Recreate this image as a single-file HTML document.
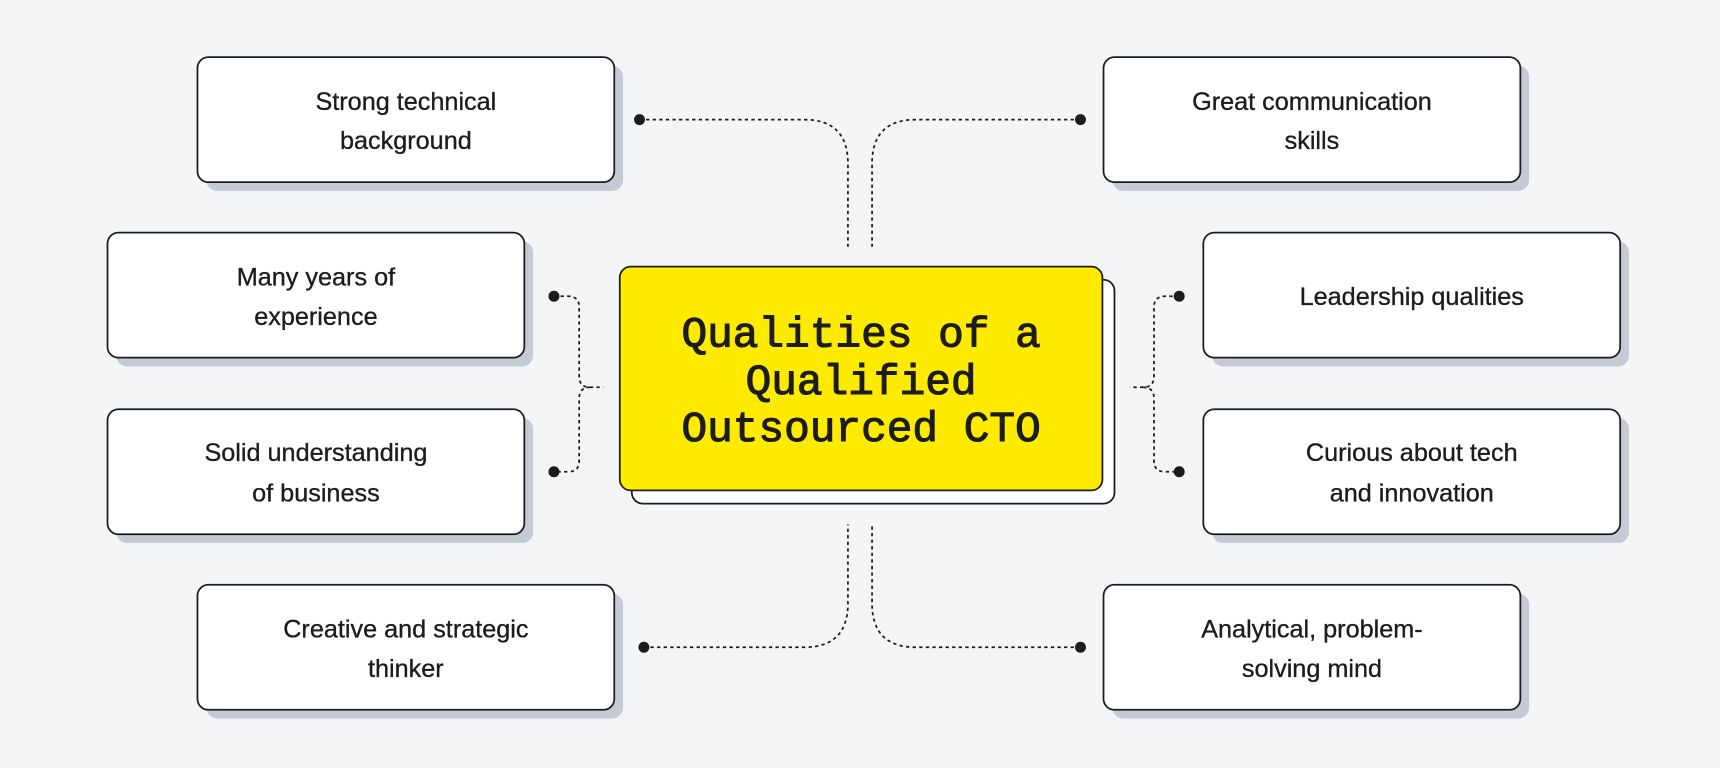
<!DOCTYPE html>
<html><head><meta charset="utf-8"><style>
html,body{margin:0;padding:0;background:#f4f5f7;}
svg{display:block}
.t{font-family:"Liberation Sans",sans-serif;font-size:23px;fill:#1c1c1c;stroke:#1c1c1c;stroke-width:0.3;text-anchor:middle}
.h{font-family:"Liberation Mono",monospace;font-size:39px;fill:#1c1c1c;stroke:#1c1c1c;stroke-width:1;text-anchor:middle}
.c{fill:none;stroke:#1c1c1c;stroke-width:1.6;stroke-dasharray:3 3}
</style></head><body>
<svg width="1720" height="768" viewBox="0 0 1568 700" xmlns="http://www.w3.org/2000/svg">
<rect width="1568" height="700" fill="#f4f5f7"/>
<g>
<g fill="#c5cbd4">
<rect x="188" y="60" width="380" height="114" rx="10"/>
<rect x="106" y="220" width="380" height="114" rx="10"/>
<rect x="106" y="381" width="380" height="114" rx="10"/>
<rect x="188" y="541" width="380" height="114" rx="10"/>
<rect x="1014" y="60" width="380" height="114" rx="10"/>
<rect x="1105" y="220" width="380" height="114" rx="10"/>
<rect x="1105" y="381" width="380" height="114" rx="10"/>
<rect x="1014" y="541" width="380" height="114" rx="10"/>
</g>
<g fill="#fff" stroke="#1c1c1c" stroke-width="1.6">
<rect x="180" y="52" width="380" height="114" rx="10"/>
<rect x="98" y="212" width="380" height="114" rx="10"/>
<rect x="98" y="373" width="380" height="114" rx="10"/>
<rect x="180" y="533" width="380" height="114" rx="10"/>
<rect x="1006" y="52" width="380" height="114" rx="10"/>
<rect x="1097" y="212" width="380" height="114" rx="10"/>
<rect x="1097" y="373" width="380" height="114" rx="10"/>
<rect x="1006" y="533" width="380" height="114" rx="10"/>
<rect x="576" y="255" width="440" height="204" rx="10"/>
<rect x="565" y="243" width="440" height="204" rx="10" fill="#ffeb00"/>
</g>
<text class="t" x="370" y="100">Strong technical</text><text class="t" x="370" y="136">background</text>
<text class="t" x="288" y="260">Many years of</text><text class="t" x="288" y="296">experience</text>
<text class="t" x="288" y="420">Solid understanding</text><text class="t" x="288" y="457">of business</text>
<text class="t" x="370" y="581">Creative and strategic</text><text class="t" x="370" y="617">thinker</text>
<text class="t" x="1196" y="100">Great communication</text><text class="t" x="1196" y="136">skills</text>
<text class="t" x="1287" y="278">Leadership qualities</text>
<text class="t" x="1287" y="420">Curious about tech</text><text class="t" x="1287" y="457">and innovation</text>
<text class="t" x="1196" y="581">Analytical, problem-</text><text class="t" x="1196" y="617">solving mind</text>
<text class="h" x="785" y="316">Qualities of a</text>
<text class="h" x="785" y="359">Qualified</text>
<text class="h" x="785" y="402">Outsourced CTO</text>
<path class="c" d="M583 109 H733 Q773 109 773 149 V225"/>
<path class="c" d="M985 109 H835 Q795 109 795 149 V225"/>
<path class="c" d="M587 590 H733 Q773 590 773 550 V478"/>
<path class="c" d="M985 590 H835 Q795 590 795 550 V478"/>
<path class="c" d="M505 270 H518 Q528 270 528 280 V343 Q528 353 538 353 H550 M538 353 Q528 353 528 363 V420 Q528 430 518 430 H505"/>
<path class="c" d="M1075 270 H1062 Q1052 270 1052 280 V343 Q1052 353 1042 353 H1030 M1042 353 Q1052 353 1052 363 V420 Q1052 430 1062 430 H1075"/>
<g fill="#1c1c1c">
<circle cx="583" cy="109" r="5"/><circle cx="985" cy="109" r="5"/>
<circle cx="587" cy="590" r="5"/><circle cx="985" cy="590" r="5"/>
<circle cx="505" cy="270" r="5"/><circle cx="505" cy="430" r="5"/>
<circle cx="1075" cy="270" r="5"/><circle cx="1075" cy="430" r="5"/>
</g>
</g>
</svg>
</body></html>
